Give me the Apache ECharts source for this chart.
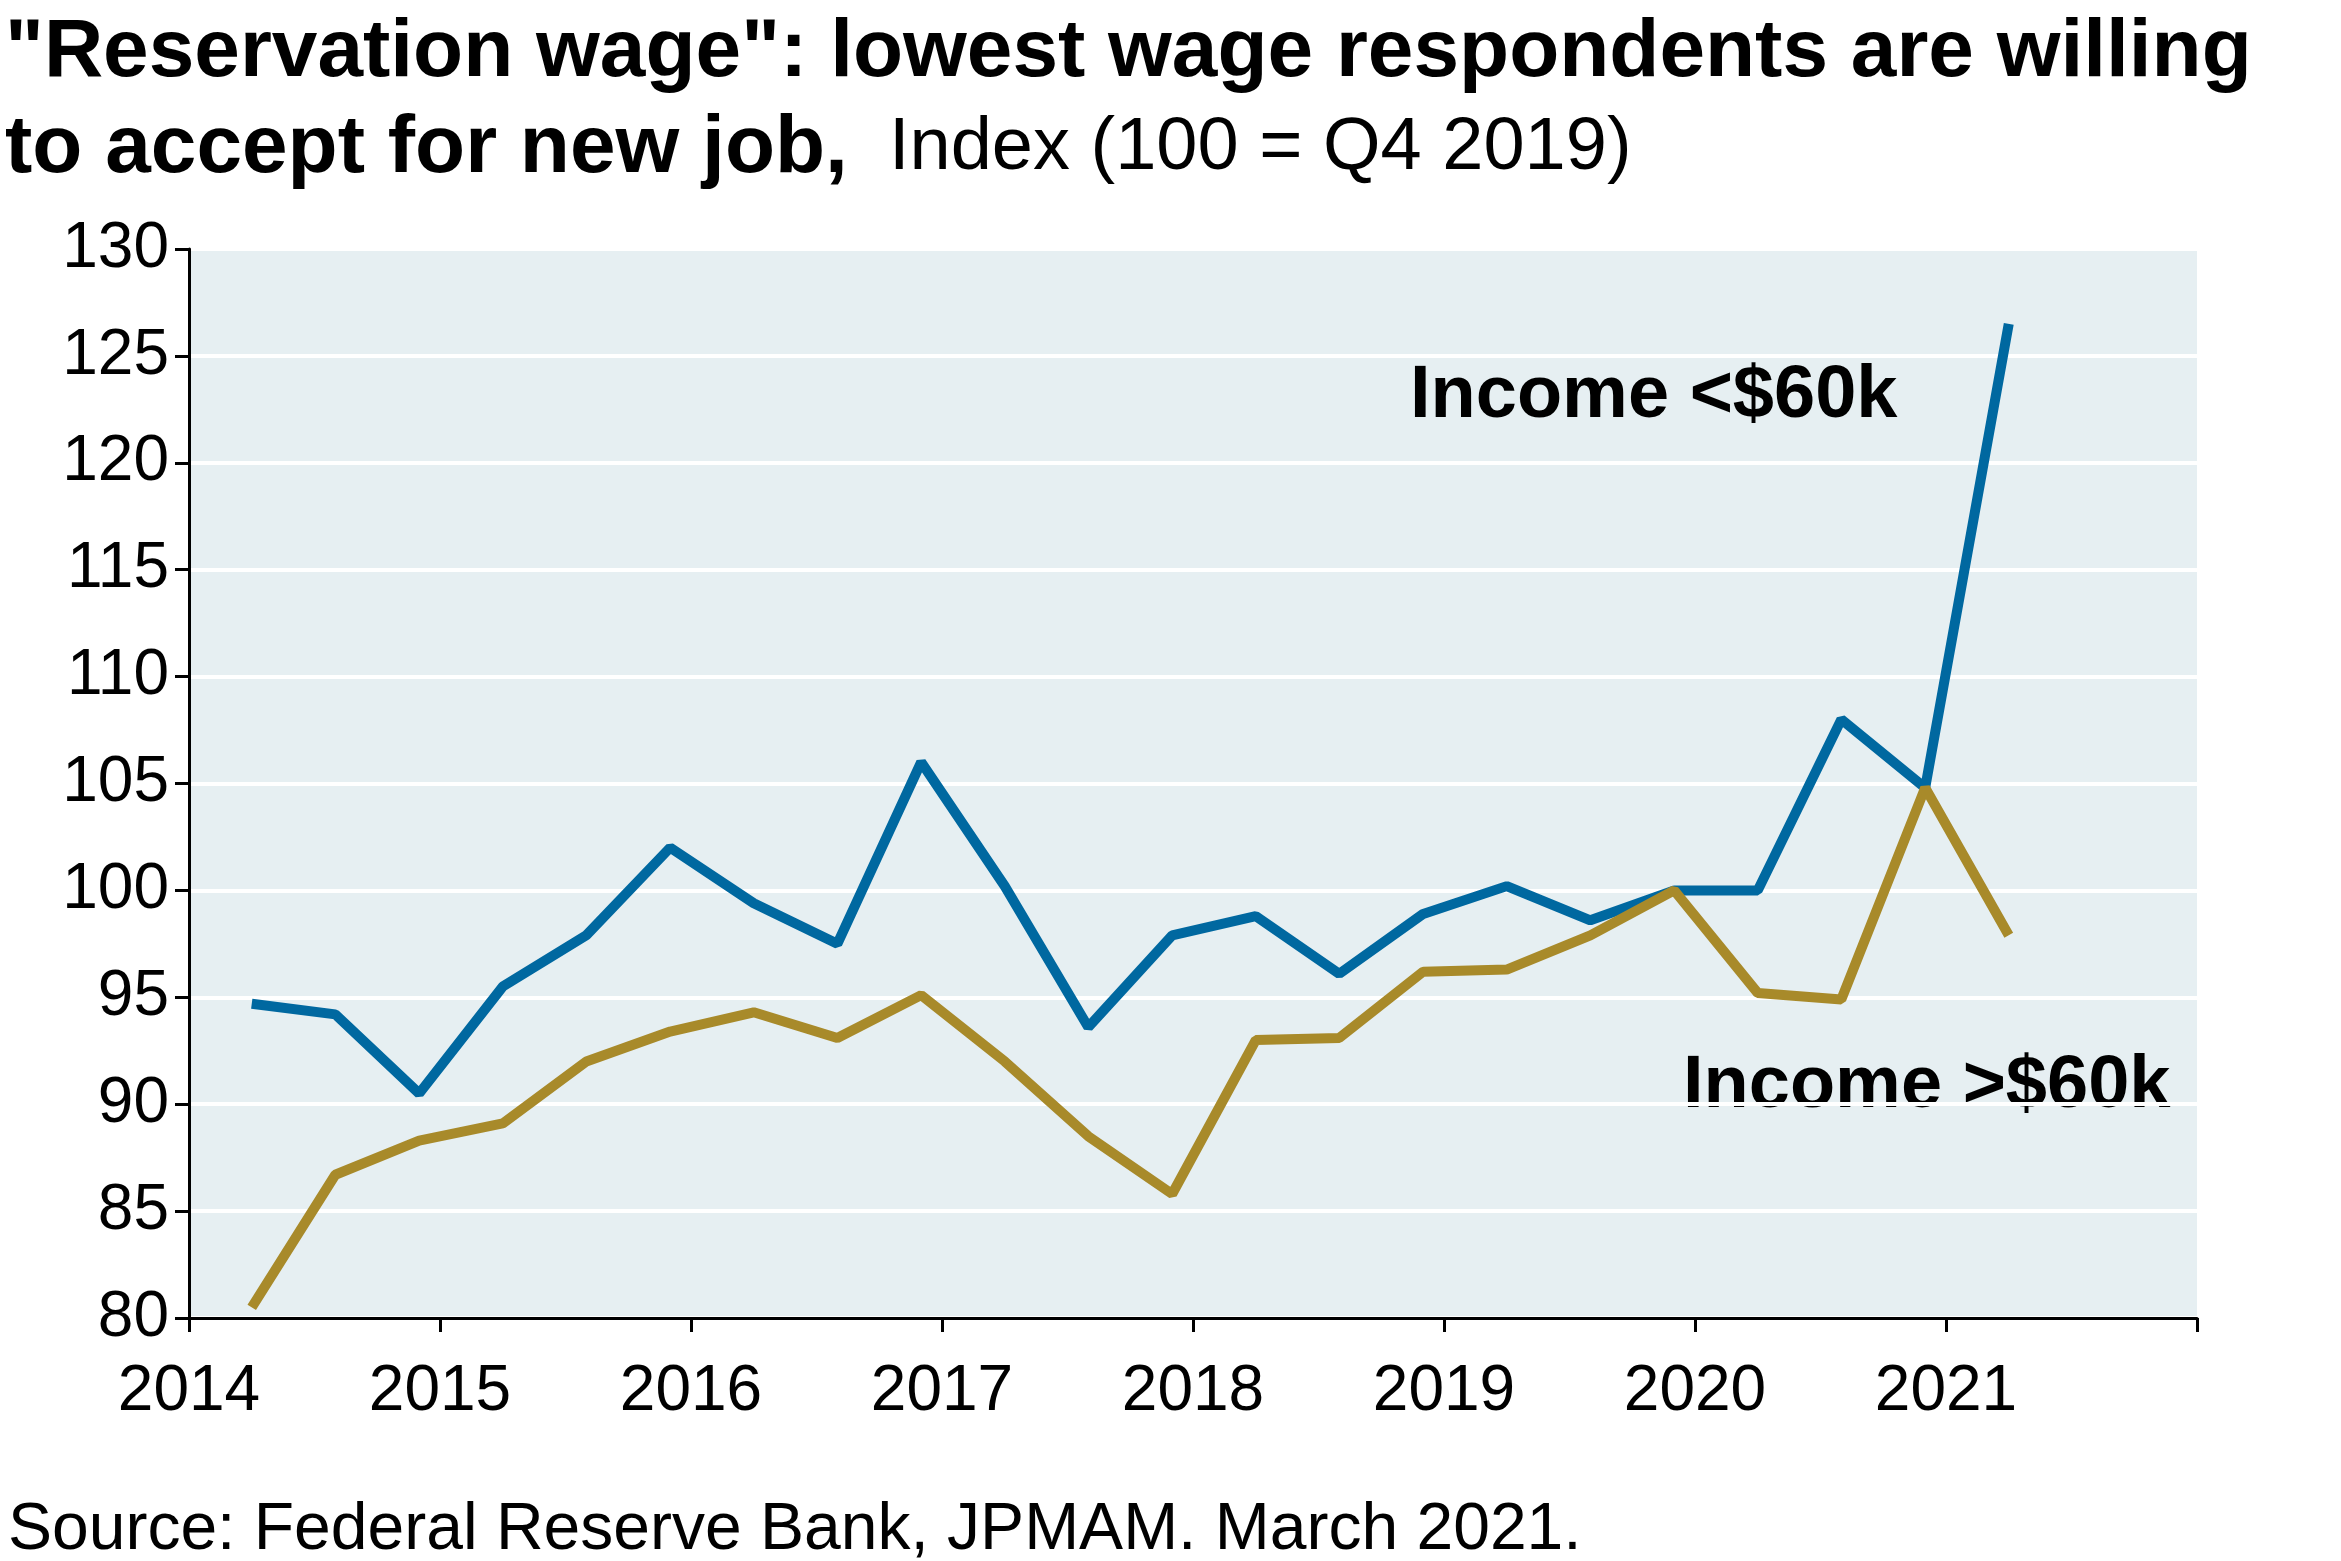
<!DOCTYPE html>
<html><head><meta charset="utf-8">
<script src="https://cdn.jsdelivr.net/npm/echarts@6/dist/echarts.min.js"></script>
<style>html,body{margin:0;padding:0;background:#fff}#c{width:2341px;height:1561px}</style>
</head><body><div id="c"></div>
<script>
const dates = [2014.25,2014.583,2014.917,2015.25,2015.583,2015.917,2016.25,2016.583,2016.917,2017.25,2017.583,2017.917,2018.25,2018.583,2018.917,2019.25,2019.583,2019.917,2020.25,2020.583,2020.917,2021.25];
const below60k = [94.7,94.2,90.5,95.5,97.9,102,99.4,97.5,106,100.2,93.6,97.9,98.8,96.1,98.9,100.2,98.6,100,100,108,104.8,126.5];
const above60k = [80.5,86.7,88.3,89.1,92,93.4,94.3,93.1,95.1,92,88.5,85.8,93,93.1,96.2,96.3,97.9,100,95.2,94.9,104.8,97.9];
const yearLabels = ['2014','2015','2016','2017','2018','2019','2020','2021'];
const F = 'Liberation Sans, Arial, sans-serif';
const chart = echarts.init(document.getElementById('c'));
chart.setOption({
  animation:false,
  grid:{left:189,right:144,top:249,bottom:243,show:true,backgroundColor:'#E6EFF2',borderWidth:0},
  xAxis:{type:'value',min:2014,max:2022,interval:1,
    axisLine:{lineStyle:{color:'#000',width:3}},
    axisTick:{show:true,length:14,lineStyle:{color:'#000',width:3}},
    axisLabel:{fontFamily:F,fontSize:64,color:'#000',margin:42,
      formatter:v=>{const i=Math.round(v)-2014;return yearLabels[i]!==undefined&&Math.abs(v-Math.round(v))<1e-6?yearLabels[i]:'';}},
    splitLine:{show:false}},
  yAxis:{type:'value',min:80,max:130,interval:5,
    axisLine:{show:true,lineStyle:{color:'#000',width:3}},
    axisTick:{show:true,length:14,lineStyle:{color:'#000',width:3}},
    axisLabel:{fontFamily:F,fontSize:64,color:'#000',margin:20},
    splitLine:{lineStyle:{color:'#fff',width:4}}},
  series:[
    {type:'line',data:dates.map((d,i)=>[d,below60k[i]]),symbol:'none',lineStyle:{color:'#0068A0',width:10},z:3},
    {type:'line',data:dates.map((d,i)=>[d,above60k[i]]),symbol:'none',lineStyle:{color:'#A88A2A',width:10},z:4}
  ],
  graphic:[
    {type:'text',left:5,top:12,style:{text:'"Reservation wage": lowest wage respondents are willing',font:'bold 82px '+F,fill:'#000'}},
    {type:'text',left:5,top:108,style:{text:'{b|to accept for new job,}{n|  Index (100 = Q4 2019)}',rich:{b:{font:'bold 82px '+F,fill:'#000'},n:{font:'74px '+F,fill:'#000'}}}},
    {type:'text',left:1410,top:360,style:{text:'Income <$60k',font:'bold 74px '+F,fill:'#000'}},
    {type:'text',left:1683,top:1050,style:{text:'Income >$60k',font:'bold 74px '+F,fill:'#000'}},
    {type:'text',left:8,top:1498,style:{text:'Source: Federal Reserve Bank, JPMAM. March 2021.',font:'66px '+F,fill:'#000'}}
  ]
});
</script></body></html>
